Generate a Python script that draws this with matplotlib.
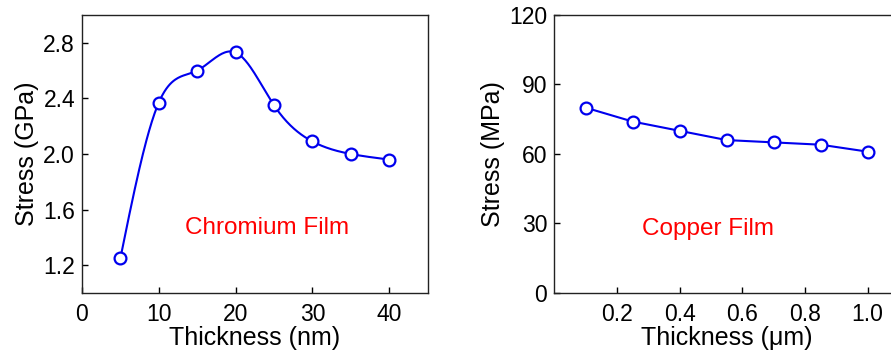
import numpy as np
import matplotlib
matplotlib.use("Agg")
import matplotlib.pyplot as plt

plt.rcParams['font.family'] = ['Liberation Sans', 'DejaVu Sans']

# --- Data ---
cr_thickness = [5, 10, 15, 20, 25, 30, 35, 40]            # nm
cr_stress = [1.25, 2.37, 2.60, 2.73, 2.35, 2.09, 2.00, 1.96]  # GPa

cu_thickness = [0.10, 0.25, 0.40, 0.55, 0.70, 0.85, 1.00]  # um
cu_stress = [80, 74, 70, 66, 65, 64, 61]                  # MPa

BLUE = '#0000ee'


def natural_spline(x, y, n=300):
    """Smooth natural cubic spline through the measured points (for the line only)."""
    x = np.asarray(x, float)
    y = np.asarray(y, float)
    k = len(x)
    h = np.diff(x)
    A = np.zeros((k, k))
    b = np.zeros(k)
    A[0, 0] = A[-1, -1] = 1
    for i in range(1, k - 1):
        A[i, i - 1] = h[i - 1]
        A[i, i] = 2 * (h[i - 1] + h[i])
        A[i, i + 1] = h[i]
        b[i] = 6 * ((y[i + 1] - y[i]) / h[i] - (y[i] - y[i - 1]) / h[i - 1])
    M = np.linalg.solve(A, b)
    xs = np.linspace(x[0], x[-1], n)
    idx = np.clip(np.searchsorted(x, xs) - 1, 0, k - 2)
    x0, x1 = x[idx], x[idx + 1]
    hh = x1 - x0
    ys = (M[idx] * (x1 - xs) ** 3 / (6 * hh) + M[idx + 1] * (xs - x0) ** 3 / (6 * hh)
          + (y[idx] / hh - M[idx] * hh / 6) * (x1 - xs)
          + (y[idx + 1] / hh - M[idx + 1] * hh / 6) * (xs - x0))
    return xs, ys


fig = plt.figure(figsize=(8.91, 3.56), dpi=100)
ax1 = fig.add_axes([0.092, 0.177, 0.388, 0.781])
ax2 = fig.add_axes([0.622, 0.177, 0.387, 0.781])

for ax in (ax1, ax2):
    ax.tick_params(direction='in', length=4, width=1, labelsize=16.5, pad=5)
    ax.tick_params(axis='x', pad=7)
    for s in ax.spines.values():
        s.set_linewidth(1.0)
        s.set_color('#222222')

# Chromium film
xs, ys = natural_spline(cr_thickness, cr_stress)
ax1.plot(xs, ys, color=BLUE, lw=1.5)
ax1.plot(cr_thickness, cr_stress, 'o', ms=8.5, mfc='white', mec=BLUE, mew=1.6)
ax1.set_xlim(0, 45)
ax1.set_ylim(1.0, 3.0)
ax1.set_xticks([0, 10, 20, 30, 40])
ax1.set_yticks([1.2, 1.6, 2.0, 2.4, 2.8])
ax1.set_xlabel('Thickness (nm)', fontsize=18, labelpad=0)
ax1.set_ylabel('Stress (GPa)', fontsize=18, labelpad=3)
ax1.text(24.1, 1.47, 'Chromium Film', color='red', fontsize=17.5,
         ha='center', va='center')

# Copper film
ax2.plot(cu_thickness, cu_stress, '-o', color=BLUE, lw=1.5, ms=8.5,
         mfc='white', mec=BLUE, mew=1.6)
ax2.set_xlim(0, 1.1)
ax2.set_ylim(0, 120)
ax2.set_xticks([0.2, 0.4, 0.6, 0.8, 1.0])
ax2.set_xticklabels(['0.2', '0.4', '0.6', '0.8', '1.0'])
ax2.set_yticks([0, 30, 60, 90, 120])
ax2.set_xlabel('Thickness (μm)', fontsize=18, labelpad=0)
ax2.set_ylabel('Stress (MPa)', fontsize=18, labelpad=3)
ax2.text(0.49, 27.5, 'Copper Film', color='red', fontsize=17.5,
         ha='center', va='center')

fig.savefig('out.png', dpi=100)
